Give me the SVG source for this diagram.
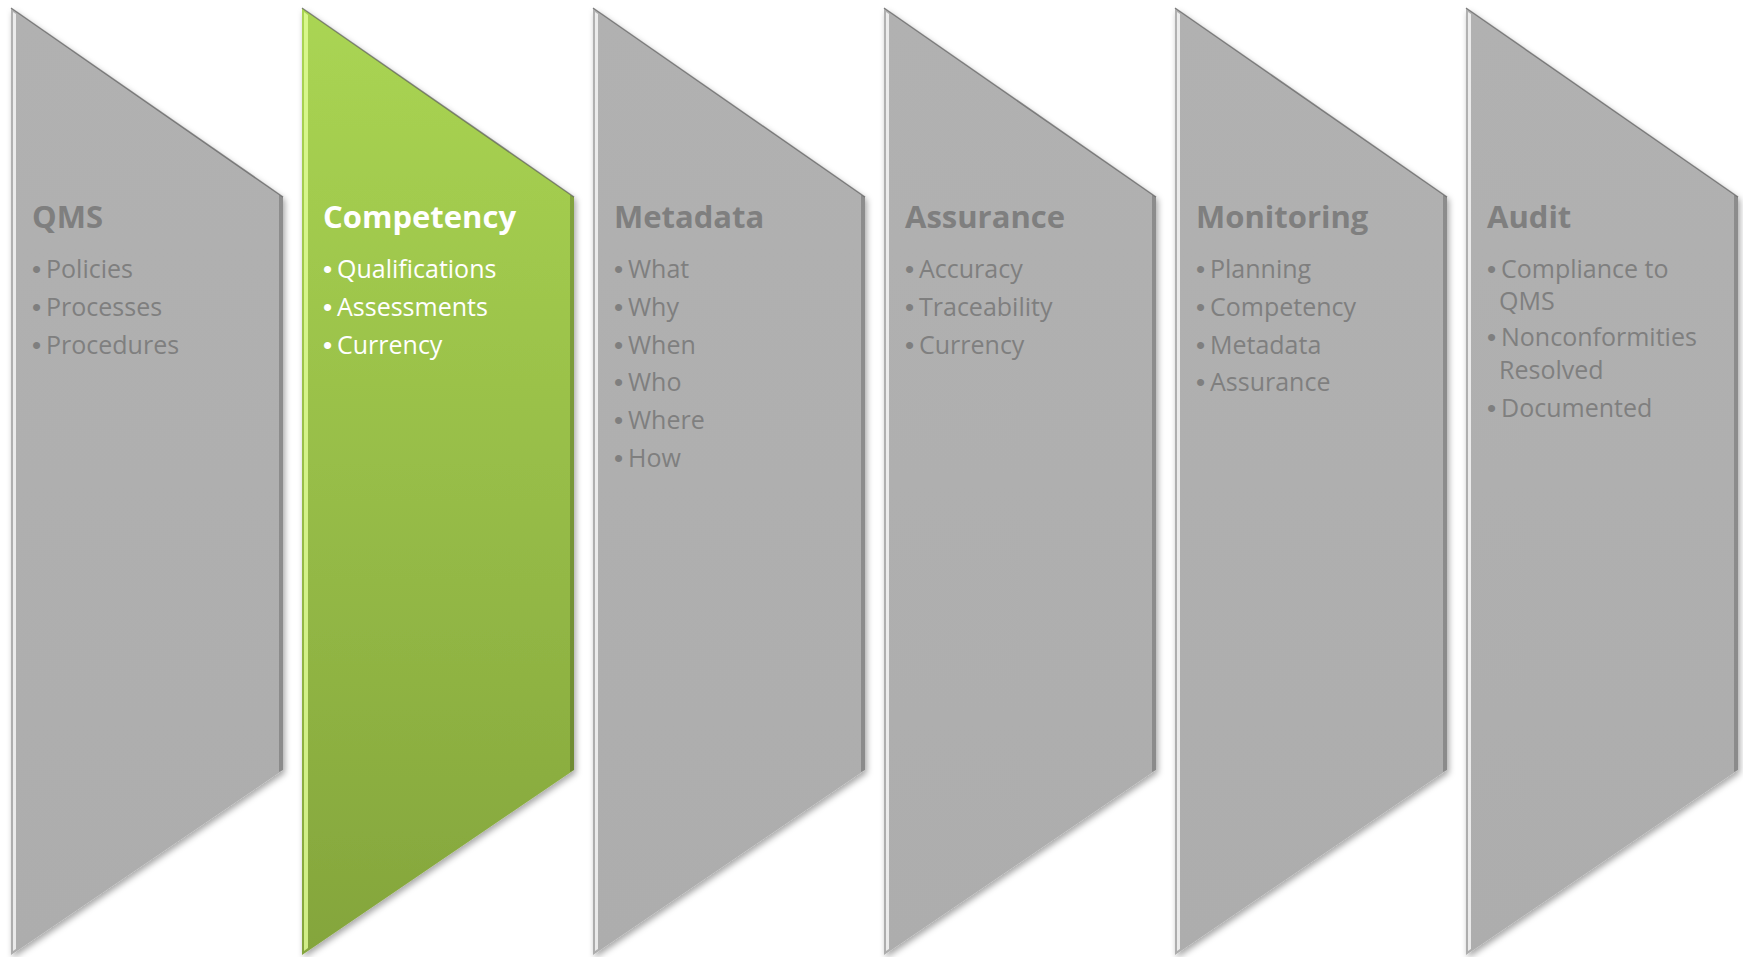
<svg xmlns="http://www.w3.org/2000/svg" width="1743" height="957" viewBox="0 0 1743 957">
<defs>
<linearGradient id="gGreen" x1="0" y1="0" x2="0" y2="1">
<stop offset="0" stop-color="#aad553"/>
<stop offset="1" stop-color="#84a53c"/>
</linearGradient>
<linearGradient id="gGray" x1="0" y1="0" x2="0" y2="1">
<stop offset="0" stop-color="#b1b1b1"/>
<stop offset="1" stop-color="#adadad"/>
</linearGradient>
<filter id="sh" x="-10%" y="-5%" width="125%" height="115%">
<feDropShadow dx="2" dy="3" stdDeviation="3" flood-color="#000" flood-opacity="0.35"/>
</filter>
</defs>
<style>
.gray{fill:url(#gGray)}
.green{fill:url(#gGreen)}
.edgeT{fill:none;stroke:#5a5a5a;stroke-width:1.5;stroke-opacity:0.7}
.hlG{fill:#ffffff;opacity:0.75}
.hlGreen{fill:#e4ff9a;opacity:0.8}
.dk{fill:#000;opacity:0.2}
.title{font-family:"Open Sans","Liberation Sans",sans-serif;font-weight:bold;font-size:31px}
.item{font-family:"Open Sans","Liberation Sans",sans-serif;font-size:25px}
.b{font-family:"Liberation Sans",sans-serif;font-size:26px}
.tg{fill:#7f7f7f}
.tw{fill:#ffffff}
</style>

<g id="node-qms" transform="translate(11,0)">
<polygon class="gray" filter="url(#sh)" points="0,8 272,197 272,770 0,955"/>
<polygon class="hlG" points="2,12 5,14 5,949 2,951"/>
<polygon class="dk" points="268,195 272,197 272,770 268,772"/>
<polyline class="edgeT" points="0,8 272,197"/>
<text class="title tg" x="21" y="228">QMS</text>
<text class="item tg"><tspan class="b" x="21" y="278">•</tspan><tspan x="35" y="278">Policies</tspan></text>
<text class="item tg"><tspan class="b" x="21" y="316">•</tspan><tspan x="35" y="316">Processes</tspan></text>
<text class="item tg"><tspan class="b" x="21" y="354">•</tspan><tspan x="35" y="354">Procedures</tspan></text>
</g>

<g id="node-competency" transform="translate(302,0)">
<polygon class="green" filter="url(#sh)" points="0,8 272,197 272,770 0,955"/>
<polygon class="hlGreen" points="2,12 6,15 6,948 2,951"/>
<polygon class="dk" points="268,195 272,197 272,770 268,772"/>
<polyline class="edgeT" points="0,8 272,197"/>
<text class="title tw" x="21" y="228">Competency</text>
<text class="item tw"><tspan class="b" x="21" y="278">•</tspan><tspan x="35" y="278">Qualifications</tspan></text>
<text class="item tw"><tspan class="b" x="21" y="316">•</tspan><tspan x="35" y="316">Assessments</tspan></text>
<text class="item tw"><tspan class="b" x="21" y="354">•</tspan><tspan x="35" y="354">Currency</tspan></text>
</g>

<g id="node-metadata" transform="translate(593,0)">
<polygon class="gray" filter="url(#sh)" points="0,8 272,197 272,770 0,955"/>
<polygon class="hlG" points="2,12 5,14 5,949 2,951"/>
<polygon class="dk" points="268,195 272,197 272,770 268,772"/>
<polyline class="edgeT" points="0,8 272,197"/>
<text class="title tg" x="21" y="228">Metadata</text>
<text class="item tg"><tspan class="b" x="21" y="278">•</tspan><tspan x="35" y="278">What</tspan></text>
<text class="item tg"><tspan class="b" x="21" y="316">•</tspan><tspan x="35" y="316">Why</tspan></text>
<text class="item tg"><tspan class="b" x="21" y="354">•</tspan><tspan x="35" y="354">When</tspan></text>
<text class="item tg"><tspan class="b" x="21" y="391">•</tspan><tspan x="35" y="391">Who</tspan></text>
<text class="item tg"><tspan class="b" x="21" y="429">•</tspan><tspan x="35" y="429">Where</tspan></text>
<text class="item tg"><tspan class="b" x="21" y="467">•</tspan><tspan x="35" y="467">How</tspan></text>
</g>

<g id="node-assurance" transform="translate(884,0)">
<polygon class="gray" filter="url(#sh)" points="0,8 272,197 272,770 0,955"/>
<polygon class="hlG" points="2,12 5,14 5,949 2,951"/>
<polygon class="dk" points="268,195 272,197 272,770 268,772"/>
<polyline class="edgeT" points="0,8 272,197"/>
<text class="title tg" x="21" y="228">Assurance</text>
<text class="item tg"><tspan class="b" x="21" y="278">•</tspan><tspan x="35" y="278">Accuracy</tspan></text>
<text class="item tg"><tspan class="b" x="21" y="316">•</tspan><tspan x="35" y="316">Traceability</tspan></text>
<text class="item tg"><tspan class="b" x="21" y="354">•</tspan><tspan x="35" y="354">Currency</tspan></text>
</g>

<g id="node-monitoring" transform="translate(1175,0)">
<polygon class="gray" filter="url(#sh)" points="0,8 272,197 272,770 0,955"/>
<polygon class="hlG" points="2,12 5,14 5,949 2,951"/>
<polygon class="dk" points="268,195 272,197 272,770 268,772"/>
<polyline class="edgeT" points="0,8 272,197"/>
<text class="title tg" x="21" y="228">Monitoring</text>
<text class="item tg"><tspan class="b" x="21" y="278">•</tspan><tspan x="35" y="278">Planning</tspan></text>
<text class="item tg"><tspan class="b" x="21" y="316">•</tspan><tspan x="35" y="316">Competency</tspan></text>
<text class="item tg"><tspan class="b" x="21" y="354">•</tspan><tspan x="35" y="354">Metadata</tspan></text>
<text class="item tg"><tspan class="b" x="21" y="391">•</tspan><tspan x="35" y="391">Assurance</tspan></text>
</g>

<g id="node-audit" transform="translate(1466,0)">
<polygon class="gray" filter="url(#sh)" points="0,8 272,197 272,770 0,955"/>
<polygon class="hlG" points="2,12 5,14 5,949 2,951"/>
<polygon class="dk" points="268,195 272,197 272,770 268,772"/>
<polyline class="edgeT" points="0,8 272,197"/>
<text class="title tg" x="21" y="228">Audit</text>
<text class="item tg"><tspan class="b" x="21" y="278">•</tspan><tspan x="35" y="278">Compliance to</tspan><tspan x="33" y="310">QMS</tspan></text>
<text class="item tg"><tspan class="b" x="21" y="346">•</tspan><tspan x="35" y="346">Nonconformities</tspan><tspan x="33" y="379">Resolved</tspan></text>
<text class="item tg"><tspan class="b" x="21" y="417">•</tspan><tspan x="35" y="417">Documented</tspan></text>
</g>

<g id="connectors"></g>
</svg>
